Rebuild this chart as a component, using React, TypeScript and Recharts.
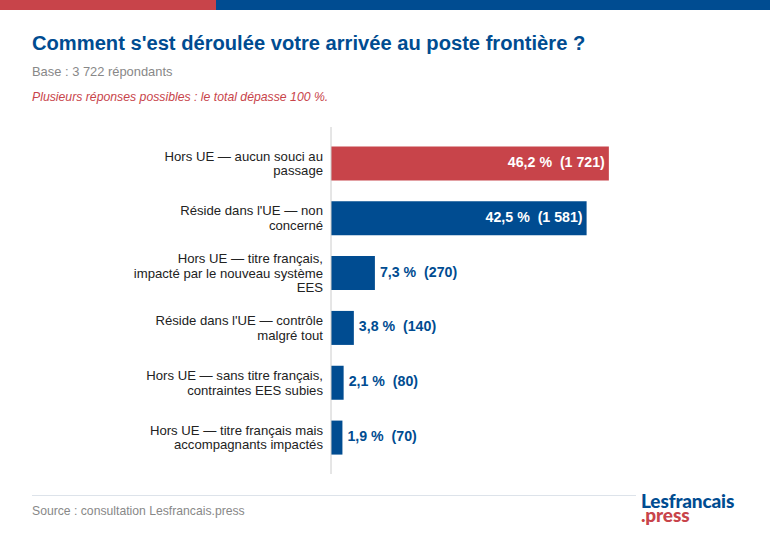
import React from 'react';
import { Bar, BarChart, Cell, LabelList, XAxis, YAxis } from 'recharts';

const RED = '#c8444a';
const BLUE = '#004c91';

const categories = [
  'Hors UE — aucun souci au passage',
  "Réside dans l'UE — non concerné",
  'Hors UE — titre français, impacté par le nouveau système EES',
  "Réside dans l'UE — contrôle malgré tout",
  'Hors UE — sans titre français, contraintes EES subies',
  'Hors UE — titre français mais accompagnants impactés',
];
const categoryLines = [
  ['Hors UE — aucun souci au', 'passage'],
  ["Réside dans l'UE — non", 'concerné'],
  ['Hors UE — titre français,', 'impacté par le nouveau système', 'EES'],
  ["Réside dans l'UE — contrôle", 'malgré tout'],
  ['Hors UE — sans titre français,', 'contraintes EES subies'],
  ['Hors UE — titre français mais', 'accompagnants impactés'],
];
const percents = [46.2, 42.5, 7.3, 3.8, 2.1, 1.9];
const counts = ['1 721', '1 581', '270', '140', '80', '70'];

const data = categories.map((name, i) => ({ name, percent: percents[i] }));

const CategoryTick = (props: any) => {
  const { x, y, payload } = props;
  const lines = categoryLines[payload.index] ?? [payload.value];
  const lineHeight = 14.7;
  const start = y - ((lines.length - 1) * lineHeight) / 2 + 4.5;
  return (
    <text x={x} y={start} textAnchor="end" fontSize={13.15} fill="#222222">
      {lines.map((line, i) => (
        <tspan key={i} x={x} y={start + i * lineHeight}>
          {line}
        </tspan>
      ))}
    </text>
  );
};

const ValueLabel = (props: any) => {
  const { x, y, width, height, index, value } = props;
  const inside = index < 2;
  const text = `${String(value).replace('.', ',')} %  (${counts[index]})`;
  return (
    <text
      x={inside ? x + width - 4 : x + width + 5}
      y={y + height / 2 + 3.5}
      textAnchor={inside ? 'end' : 'start'}
      fontSize={14.2}
      fontWeight="bold"
      fill={inside ? '#ffffff' : BLUE}
      style={{ whiteSpace: 'pre' }}
    >
      {text}
    </text>
  );
};

const abs = (left: number, top: number, style: React.CSSProperties): React.CSSProperties => ({
  position: 'absolute',
  left,
  top,
  whiteSpace: 'nowrap',
  ...style,
});

export default function App() {
  return (
    <div
      style={{
        position: 'absolute',
        left: 0,
        top: 0,
        width: 770,
        height: 540,
        background: '#ffffff',
        overflow: 'hidden',
        fontFamily: '"Liberation Sans", Arial, sans-serif',
      }}
    >
      <div style={abs(0, 0, { width: 216, height: 10, background: RED })} />
      <div style={abs(216, 0, { width: 554, height: 10, background: BLUE })} />
      <div style={abs(32, 31, { fontSize: 20.15, lineHeight: '24px', fontWeight: 'bold', color: BLUE })}>
        Comment s'est déroulée votre arrivée au poste frontière ?
      </div>
      <div style={abs(32, 64, { fontSize: 12.9, lineHeight: '16px', color: '#888888' })}>
        Base : 3 722 répondants
      </div>
      <div style={abs(32, 89, { fontSize: 12.25, lineHeight: '16px', fontStyle: 'italic', color: RED })}>
        Plusieurs réponses possibles : le total dépasse 100 %.
      </div>

      <div style={abs(0, 0, {})}>
        <BarChart
          width={770}
          height={540}
          layout="vertical"
          data={data}
          margin={{ top: 127, right: 18, bottom: 66, left: 0 }}
          barCategoryGap="19%"
        >
          <XAxis type="number" hide domain={[0, 70]} />
          <YAxis
            type="category"
            dataKey="name"
            width={331}
            padding={{ top: 9, bottom: 9 }}
            axisLine={{ stroke: '#cccccc', strokeWidth: 1 }}
            tickLine={false}
            tickMargin={2}
            interval={0}
            tick={<CategoryTick />}
          />
          <Bar dataKey="percent" isAnimationActive={false}>
            {data.map((_, i) => (
              <Cell key={i} fill={i === 0 ? RED : BLUE} />
            ))}
            <LabelList dataKey="percent" content={<ValueLabel />} />
          </Bar>
        </BarChart>
      </div>

      <div style={abs(32, 495, { width: 604, height: 1, background: '#dde3ea' })} />
      <div style={abs(32, 503, { fontSize: 12.2, lineHeight: '16px', color: '#888888' })}>
        Source : consultation Lesfrancais.press
      </div>
      <div style={abs(641, 494, { fontFamily: 'Lato, sans-serif', fontSize: 19, lineHeight: '14px', fontWeight: 900, color: BLUE, letterSpacing: -0.15 })}>
        Lesfrancais
      </div>
      <div style={abs(641, 508, { fontFamily: 'Lato, sans-serif', fontSize: 19, lineHeight: '14px', fontWeight: 900, color: RED, letterSpacing: -0.15 })}>
        .press
      </div>
    </div>
  );
}
